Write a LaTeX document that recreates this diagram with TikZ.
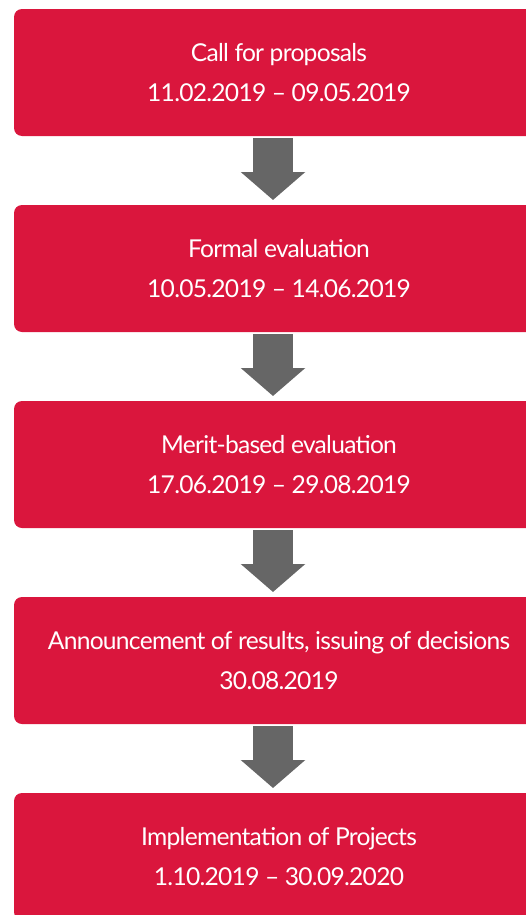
\documentclass[tikz,border=0pt]{standalone}
\usepackage{fontspec}
\setmainfont{Lato}[LetterSpace=-3]
\usetikzlibrary{
  arrows.meta,
  positioning
}
\usepackage{xcolor}
\definecolor{stagered}{HTML}{DA163D}
\definecolor{flowgray}{HTML}{666666}

\begin{document}
\begin{tikzpicture}[
  node distance=1.38cm,
  stage/.style={fill=stagered, rounded corners=0.16cm, minimum width=10.6cm,
    minimum height=2.54cm, inner sep=0pt, outer sep=0pt, text=white,
    font=\fontsize{14}{23}\selectfont, align=center},
  flow/.style={draw=flowgray, line width=0.8cm,
    -{Triangle[length=0.56cm, width=1.26cm]}}
]
  \useasboundingbox (0,0) rectangle (10.52,-18.3);
  \clip (0,0) rectangle (10.52,-18.3);

  \node[stage] (call) at (5.58,-1.45) {Call for proposals\\11.02.2019 -- 09.05.2019};
  \node[stage, below=of call] (formal) {Formal evaluation\\10.05.2019 -- 14.06.2019};
  \node[stage, below=of formal] (merit) {Merit-based evaluation\\17.06.2019 -- 29.08.2019};
  \node[stage, below=of merit] (results) {Announcement of results, issuing of decisions\\30.08.2019};
  \node[stage, below=of results] (impl) {Implementation of Projects\\1.10.2019 -- 30.09.2020};

  % block arrows between the stages
  \foreach \a/\b in {call/formal, formal/merit, merit/results, results/impl}
    \draw[flow, shorten <=0.04cm, shorten >=0.1cm]
      ([xshift=-0.12cm]\a.south) -- ([xshift=-0.12cm]\b.north);

\end{tikzpicture}
\end{document}
